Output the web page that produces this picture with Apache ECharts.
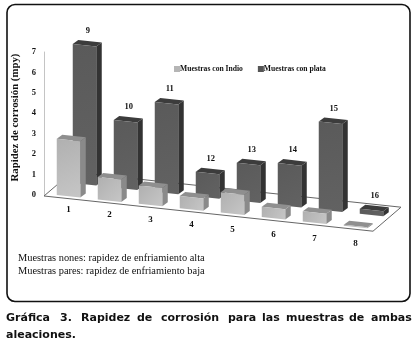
<!DOCTYPE html>
<html>
<head>
<meta charset="utf-8">
<style>html,body{margin:0;padding:0;background:#fff}#c{width:416px;height:347px}</style>
<script src="https://cdn.jsdelivr.net/npm/echarts@6/dist/echarts.min.js"></script>
</head>
<body>
<div id="c"></div>
<script>
const categories = ['1','2','3','4','5','6','7','8'];
const plataLabels = ['9','10','11','12','13','14','15','16'];
const indio = [2.75,1.1,0.9,0.6,1.0,0.5,0.5,0.05];
const plata = [6.8,3.3,4.4,1.2,1.85,2.05,4.3,0.25];
const note1 = 'Muestras nones: rapidez de enfriamiento alta';
const note2 = 'Muestras pares: rapidez de enfriamiento baja';
const captionWords = [['Gráfica',6],['3.',60],['Rapidez',81],['de',137],['corrosión',161],['para',228],['las',262],['muestras',286],['de',349],['ambas',371]];
const captionLine2 = 'aleaciones.';

const SLOPE = 0.107, STEP = 4.4, BW = 23.5, DX = 5.5, DY = -4;
const SERIF = '"Liberation Serif", serif';

function vGrad(a,b){return new echarts.graphic.LinearGradient(0,0,1,1,[{offset:0,color:a},{offset:1,color:b}]);}

function barRender(o){
  return function(params, api){
    const i = api.value(0), v = api.value(1);
    const base = api.coord([i,0]), top = api.coord([i,v]);
    const sx = o.shiftX, sy = o.shiftY + i*STEP;
    const xl = base[0]-BW/2+sx, xr = xl+BW;
    const yb = base[1]+sy, yt = top[1]+sy, d = BW*SLOPE;
    const kids = [
      {type:'polygon',shape:{points:[[xr,yt+d],[xr+DX,yt+d+DY],[xr+DX,yb+d+DY],[xr,yb+d]]},style:{fill:o.side}},
      {type:'polygon',shape:{points:[[xl,yt],[xl+DX,yt+DY],[xr+DX,yt+d+DY],[xr,yt+d]]},style:{fill:o.top}},
      {type:'polygon',shape:{points:[[xl,yt],[xr,yt+d],[xr,yb+d],[xl,yb]]},style:{fill:vGrad(o.f1,o.f2)}}
    ];
    if(o.labels){
      kids.push({type:'text',z2:50,style:{text:o.labels[i],x:xl+15,y:yt+DY-9,align:'center',verticalAlign:'middle',font:'bold 8.5px '+SERIF,fill:'#111'}});
    }
    if(o.axisLabels){
      kids.push({type:'text',z2:50,style:{text:o.axisLabels[i],x:base[0],y:base[1]+15+i*4.85,align:'center',verticalAlign:'middle',font:'bold 9px '+SERIF,fill:'#111'}});
    }
    return {type:'group',children:kids};
  };
}

const chart = echarts.init(document.getElementById('c'),null,{renderer:'canvas'});
chart.setOption({
  animation:false,
  backgroundColor:'#fff',
  grid:{left:48,width:328,top:52,height:143},
  legend:{
    data:[{name:'Muestras con Indio',icon:'rect'},{name:'Muestras con plata',icon:'rect'}],
    left:169,top:60,itemWidth:6,itemHeight:6,itemGap:15,
    textStyle:{fontFamily:SERIF,fontWeight:'bold',fontSize:7.6,color:'#111',padding:[0,0,0,-5]}
  },
  xAxis:{type:'category',data:categories,axisLine:{show:false},axisTick:{show:false},axisLabel:{show:false},splitLine:{show:false}},
  yAxis:{
    type:'value',min:0,max:7,interval:1,offset:4,
    name:'Rapidez de corrosión (mpy)',nameLocation:'middle',nameGap:12,
    nameTextStyle:{fontFamily:SERIF,fontWeight:'bold',fontSize:10.8,color:'#111',padding:[0,0,0,12]},
    axisLine:{show:true,lineStyle:{color:'#c4c4c4',width:1}},
    axisTick:{show:false},splitLine:{show:false},
    axisLabel:{margin:8,fontFamily:SERIF,fontWeight:'bold',fontSize:8.5,color:'#111'}
  },
  series:[
    {type:'custom',name:'floor',silent:true,data:[[0,0]],z:1,clip:false,
     renderItem(params,api){
       const p=api.coord([0,0]);
       const x0=p[0]-24.5,y0=p[1]+1;
       const w=329,h=w*SLOPE,dx=28,dy=-24;
       return {type:'polygon',shape:{points:[[x0,y0],[x0+dx,y0+dy],[x0+dx+w,y0+dy+h],[x0+w,y0+h]]},
         style:{fill:'#fff',stroke:'#666',lineWidth:1}};
     }},
    {type:'custom',name:'Muestras con plata',z:2,clip:false,itemStyle:{color:'#555'},
     data:plata.map((v,i)=>[i,v]),encode:{x:0,y:1},
     renderItem:barRender({shiftX:16,shiftY:-12,f1:'#5a5a5a',f2:'#626262',side:'#333',top:'#3c3c3c',labels:plataLabels})},
    {type:'custom',name:'Muestras con Indio',z:3,clip:false,itemStyle:{color:'#b5b5b5'},
     data:indio.map((v,i)=>[i,v]),encode:{x:0,y:1},
     renderItem:barRender({shiftX:0,shiftY:0,f1:'#b0b0b0',f2:'#c6c6c6',side:'#8a8a8a',top:'#8f8f8f',axisLabels:categories})}
  ],
  graphic:[
    {type:'rect',z:100,silent:true,shape:{x:7,y:4.5,width:403,height:297,r:8},style:{fill:'none',stroke:'#111',lineWidth:1.6}},
    {type:'text',z:100,silent:true,style:{text:note1,x:18,y:258,verticalAlign:'middle',font:'10.4px '+SERIF,fill:'#111'}},
    {type:'text',z:100,silent:true,style:{text:note2,x:18,y:271.5,verticalAlign:'middle',font:'10.4px '+SERIF,fill:'#111'}},
    ...captionWords.map(([w,x])=>({type:'text',z:100,silent:true,style:{text:w,x:x,y:318,verticalAlign:'middle',font:'bold 11px "DejaVu Sans", sans-serif',fill:'#111'}})),
    {type:'text',z:100,silent:true,style:{text:captionLine2,x:6,y:335,verticalAlign:'middle',font:'bold 11px "DejaVu Sans", sans-serif',fill:'#111'}}
  ]
});
</script>
</body>
</html>
